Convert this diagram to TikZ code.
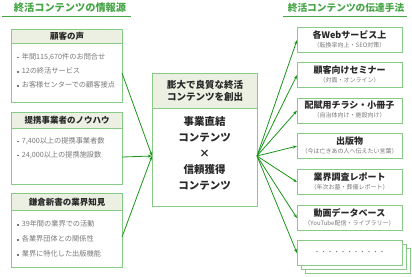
\documentclass[tikz,border=0pt]{standalone}
\usepackage{fontspec}
\setmainfont{Noto Sans CJK JP}
\usetikzlibrary{arrows.meta}
\definecolor{ttl}{RGB}{70,165,70}
\definecolor{bord}{RGB}{135,203,135}
\definecolor{hdr}{RGB}{236,240,226}
\definecolor{arr}{RGB}{25,150,25}
\definecolor{txt}{RGB}{40,40,40}
\definecolor{subc}{RGB}{120,120,120}
\newcommand{\bsq}{{\color{subc}\rule[0.3ex]{1.6pt}{1.6pt}}\hspace{3pt}}
\begin{document}
\begin{tikzpicture}[x=1pt,y=-1pt,
  ttltext/.style={text=ttl,font=\bfseries\fontsize{10}{12}\selectfont,inner sep=0},
  ttlline/.style={draw=ttl,line width=1pt},
  lbox/.style={draw=bord,line width=1.2pt,fill=white,minimum width=111pt,anchor=north west,inner sep=0},
  hbox/.style={draw=bord,line width=1.2pt,fill=hdr,minimum width=111pt,anchor=north west,inner sep=0,text=txt,font=\bfseries\fontsize{8.5}{10}\selectfont},
  bul/.style={anchor=west,inner sep=0,text=subc,font=\fontsize{7.2}{8}\selectfont},
  rbox/.style={draw=bord,line width=1.2pt,fill=white,minimum width=105pt,minimum height=25pt,anchor=north west,inner sep=0},
  rtitle/.style={inner sep=0,text=txt,font=\bfseries\fontsize{9}{10}\selectfont},
  rsub/.style={inner sep=0,text=subc,font=\fontsize{6}{7}\selectfont},
  conn/.style={draw=arr,line width=0.8pt,-{Stealth[length=4.2pt,width=3pt]}}]
\useasboundingbox (0,0) rectangle (412,276);

% titles
\node[ttltext,font=\bfseries\fontsize{10.2}{12}\selectfont] (tl) at (70,8) {終活コンテンツの情報源};
\node[ttltext,font=\bfseries\fontsize{9.7}{12}\selectfont] (tr) at (346,8) {終活コンテンツの伝達手法};
\coordinate (tl1) at (2,16.5); \coordinate (tl2) at (131,16.5);
\coordinate (tr1) at (283,16.5); \coordinate (tr2) at (407,16.5);
\draw[ttlline] (tl1) -- (tl2);
\draw[ttlline] (tr1) -- (tr2);

% left boxes
\node[lbox,minimum height=73pt] (b1) at (11,29) {};
\node[hbox,minimum height=14pt] (h1) at (11,29) {顧客の声};
\node[bul] (b1a) at (17,57) {\bsq 年間115,670件のお問合せ};
\node[bul] (b1b) at (17,71) {\bsq 12の終活サービス};
\node[bul] (b1c) at (17,85) {\bsq お客様センターでの顧客接点};

\node[lbox,minimum height=72pt] (b2) at (11,112) {};
\node[hbox,minimum height=16pt] (h2) at (11,112) {提携事業者のノウハウ};
\node[bul] (b2a) at (17,141) {\bsq 7,400以上の提携事業者数};
\node[bul] (b2b) at (17,155) {\bsq 24,000以上の提携施設数};

\node[lbox,minimum height=74pt] (b3) at (11,193) {};
\node[hbox,minimum height=17pt] (h3) at (11,193) {鎌倉新書の業界知見};
\node[bul] (b3a) at (17,224) {\bsq 39年間の業界での活動};
\node[bul] (b3b) at (17,239) {\bsq 各業界団体との関係性};
\node[bul] (b3c) at (17,254) {\bsq 業界に特化した出版機能};

% center box
\node[lbox,minimum width=105pt,minimum height=133pt] (c) at (152,73) {};
\node[hbox,minimum width=105pt,minimum height=35pt,align=center,font=\bfseries\fontsize{9.5}{12}\selectfont] (ch) at (152,73) {膨大で良質な終活\\コンテンツを創出};
\node[inner sep=0,align=center,text=txt,font=\bfseries\fontsize{10.5}{16}\selectfont] (cb) at (204.5,153) {事業直結\\コンテンツ\\×\\信頼獲得\\コンテンツ};

% right boxes
\node[rbox] (r1) at (297,27) {};
\node[rtitle] (r1t) at (349.5,35) {各Webサービス上};
\node[rsub] (r1s) at (349.5,45) {（転換率向上・SEO対策）};

\node[rbox] (r2) at (297,62) {};
\node[rtitle] (r2t) at (349.5,70) {顧客向けセミナー};
\node[rsub] (r2s) at (349.5,80) {（対面・オンライン）};

\node[rbox] (r3) at (297,97.5) {};
\node[rtitle] (r3t) at (349.5,105.5) {配賦用チラシ・小冊子};
\node[rsub] (r3s) at (349.5,115.5) {（自治体向け・施設向け）};

\node[rbox] (r4) at (297,133) {};
\node[rtitle] (r4t) at (349.5,141) {出版物};
\node[rsub] (r4s) at (349.5,151) {（今は亡きあの人へ伝えたい言葉）};

\node[rbox] (r5) at (297,169) {};
\node[rtitle] (r5t) at (349.5,177) {業界調査レポート};
\node[rsub] (r5s) at (349.5,187) {（年次お墓・葬儀レポート）};

\node[rbox] (r6) at (297,205) {};
\node[rtitle] (r6t) at (349.5,213) {動画データベース};
\node[rsub] (r6s) at (349.5,223) {（YouTube配信・ライブラリー）};

\node[rbox] (r7c) at (305,248) {};
\node[rbox] (r7b) at (301,244) {};
\node[rbox] (r7) at (297,240) {};
\node[rsub,font=\fontsize{6.5}{7}\selectfont] (r7t) at (349.5,252.5) {・・・・・・・・・・・};

% connectors
\coordinate (cin) at (152,156);
\coordinate (cout) at (257,156);
\coordinate (b1o) at (122,73);
\coordinate (b2o) at (122,157);
\coordinate (b3o) at (122,237);
\draw[conn] (b1o) -- (cin);
\draw[conn] (b2o) -- (cin);
\draw[conn] (b3o) -- (cin);
\foreach \r in {r1,r2,r3,r4,r5,r6,r7}{
  \draw[conn] (cout) -- (\r.west);
}
\end{tikzpicture}
\end{document}
